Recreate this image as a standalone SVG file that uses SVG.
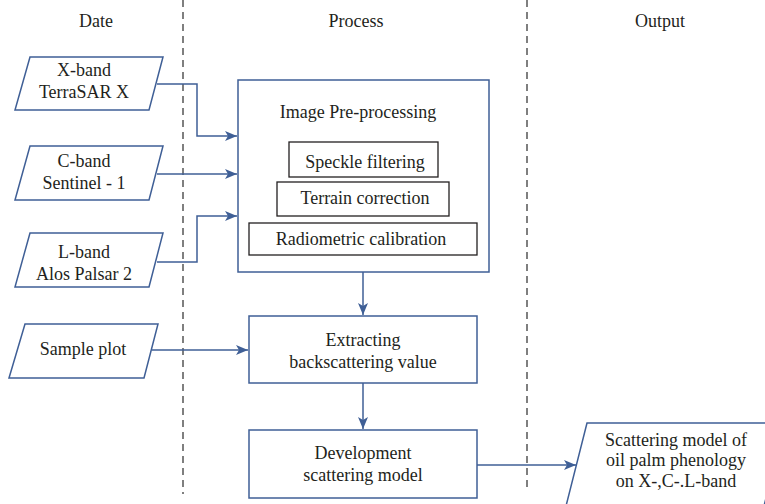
<svg xmlns="http://www.w3.org/2000/svg" width="765" height="504" viewBox="0 0 765 504" font-family="'Liberation Serif', 'DejaVu Serif', serif">
<style>
text{font-family:'Liberation Serif','DejaVu Serif',serif;font-size:18px;fill:#231f20;text-anchor:middle}
.b{fill:#fff;stroke:#3f5f96;stroke-width:1.5}
.k{fill:#fff;stroke:#231f20;stroke-width:1.3}
.c{fill:none;stroke:#3f5f96;stroke-width:1.5}
.d{stroke:#555;stroke-width:1.5;stroke-dasharray:7,5}
</style>
<defs>
<marker id="ah" viewBox="0 0 12 10" refX="12" refY="5" markerWidth="12" markerHeight="10" markerUnits="userSpaceOnUse" orient="auto">
<path d="M0,0 L12,5 L0,10 L3,5 Z" fill="#3f5f96"/>
</marker>
</defs>
<g id="lanes">
<line class="d" x1="183" y1="0" x2="183" y2="494"/>
<line class="d" x1="527" y1="0" x2="527" y2="492"/>
<text x="96" y="27">Date</text>
<text x="356" y="27">Process</text>
<text x="660" y="27">Output</text>
</g>
<g id="connectors">
<polyline class="c" points="157,84 197,84 197,136 237,136" marker-end="url(#ah)"/>
<polyline class="c" points="157,174 237,174" marker-end="url(#ah)"/>
<polyline class="c" points="157,262 197,262 197,216 237,216" marker-end="url(#ah)"/>
<polyline class="c" points="363,272 363,315" marker-end="url(#ah)"/>
<polyline class="c" points="152,350 248,350" marker-end="url(#ah)"/>
<polyline class="c" points="363,383 363,429" marker-end="url(#ah)"/>
<polyline class="c" points="477,465 576,465" marker-end="url(#ah)"/>
</g>
<g id="xband">
<polygon class="b" points="30,57 163,57 149,110 15,110"/>
<text x="84" y="76">X-band</text>
<text x="84" y="98">TerraSAR X</text>
</g>
<g id="cband">
<polygon class="b" points="30,146 163,146 149,200 15,200"/>
<text x="84" y="167">C-band</text>
<text x="84" y="189">Sentinel - 1</text>
</g>
<g id="lband">
<polygon class="b" points="30,233 163,233 149,287 15,287"/>
<text x="84" y="258">L-band</text>
<text x="84" y="280">Alos Palsar 2</text>
</g>
<g id="preprocessing">
<rect class="b" x="238" y="80" width="251" height="192"/>
<text x="358" y="118">Image Pre-processing</text>
</g>
<g id="speckle">
<rect class="k" x="289" y="142" width="149" height="35"/>
<text x="365" y="168">Speckle filtering</text>
</g>
<g id="terrain">
<rect class="k" x="277" y="182" width="172" height="34"/>
<text x="365" y="204">Terrain correction</text>
</g>
<g id="radiometric">
<rect class="k" x="249" y="223" width="228" height="32"/>
<text x="361" y="245">Radiometric calibration</text>
</g>
<g id="sample">
<polygon class="b" points="25,324 158,324 144,378 9,378"/>
<text x="83" y="355">Sample plot</text>
</g>
<g id="extracting">
<rect class="b" x="249" y="316" width="228" height="67"/>
<text x="363" y="346">Extracting</text>
<text x="363" y="368">backscattering value</text>
</g>
<g id="development">
<rect class="b" x="249" y="430" width="228" height="68"/>
<text x="363" y="459">Development</text>
<text x="363" y="481">scattering model</text>
</g>
<g id="output">
<polygon class="b" points="587,423 785,423 763,510 565,510"/>
<text x="676" y="446">Scattering model of</text>
<text x="676" y="466">oil palm phenology</text>
<text x="676" y="487">on X-,C-.L-band</text>
</g>
</svg>
